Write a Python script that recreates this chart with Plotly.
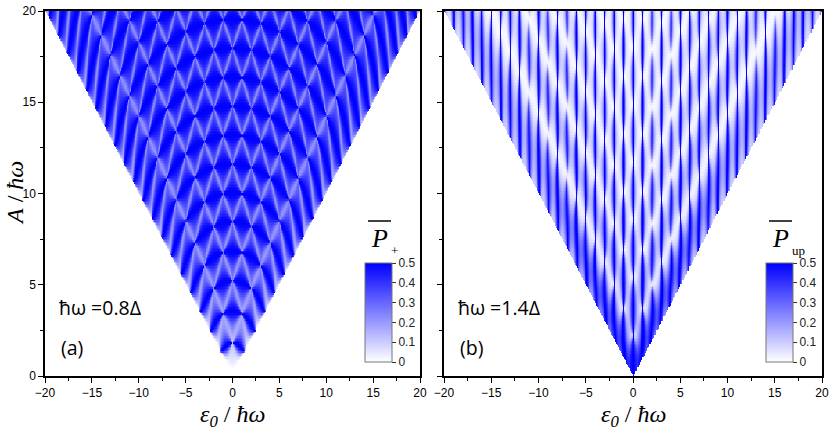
import numpy as np
import plotly.graph_objects as go
from plotly.subplots import make_subplots

# --- parametry paneli ---
hw_over_delta = [0.8, 1.4]          # hbar*omega / Delta dla (a) i (b)
panel_tags = ["(a)", "(b)"]
energy_labels = ["ħω =0.8Δ", "ħω =1.4Δ"]
cbar_subs = ["+", "up"]
eps_range = [-20, 20]
amp_range = [0, 20]
axis_ticks = [-20, -15, -10, -5, 0, 5, 10, 15, 20]
amp_ticks = [0, 5, 10, 15, 20]
cbar_ticks = [0, 0.1, 0.2, 0.3, 0.4, 0.5]
n_eps, n_amp = 481, 241
n_steps = 600
n_quad = 300

W, H = 831, 432


def px(x):
    return x / W


def py(y):
    return (H - y) / H


def grid():
    eps = np.linspace(eps_range[0], eps_range[1], n_eps)
    amp = np.linspace(amp_range[0], amp_range[1], n_amp)
    E, A = np.meshgrid(eps, amp)
    return eps, amp, E, A, np.abs(E) < A


def arg_gamma(d):
    # Im ln Gamma(1 - i d)
    z = 1 - 1j * d
    K = 10
    shift = np.zeros_like(d)
    for k in range(K):
        shift += np.angle(z + k)
    w = z + K
    lg = (w - 0.5) * np.log(w) - w + 0.5 * np.log(2 * np.pi) + 1 / (12 * w) - 1 / (360 * w ** 3) + 1 / (1260 * w ** 5)
    return lg.imag - shift


def phase(e0, a0, gap, t0, t1, s):
    L = (t1 - t0)[:, None]
    tt = t0[:, None] + s[None, :] * L
    val = np.sqrt(gap ** 2 + (e0[:, None] + a0[:, None] * np.sin(tt)) ** 2).mean(axis=1)
    return 0.5 * (t1 - t0) * val


def aim_upper(hw):
    # model adiabatyczno-impulsowy (przejscie powolne), usredniony po obu odcinkach okresu
    gap = 1.0 / hw
    eps, amp, E, A, inside = grid()
    out = np.full(E.shape, np.nan)
    e0all = E[inside]
    a0all = A[inside]
    res = np.empty(e0all.size)
    s = (np.arange(n_quad) + 0.5) / n_quad
    chunk = 4000
    for i in range(0, e0all.size, chunk):
        e0 = e0all[i:i + chunk]
        a0 = a0all[i:i + chunk]
        asn = np.arcsin(e0 / a0)
        tA = -asn
        tB = np.pi + asn
        zp = phase(e0, a0, gap, tA, tB, s)                 # odcinek eps > 0
        zn = phase(e0, a0, gap, tB, tA + 2 * np.pi, s)     # odcinek eps < 0
        v = np.sqrt(np.maximum(a0 ** 2 - e0 ** 2, 1e-12))
        d = gap ** 2 / (4 * v)
        P = np.exp(-2 * np.pi * d)
        phs = np.pi / 4 + d * (np.log(d) - 1) + arg_gamma(d) - np.pi / 2
        x2 = np.sqrt(1 - P) * np.sin(zp + zn + 2 * phs) ** 2
        ya = 4 * P * np.cos(zp + phs) ** 2
        yb = 4 * P * np.cos(zn + phs) ** 2
        res[i:i + chunk] = 0.25 * (ya / (ya + x2 + 1e-12) + yb / (yb + x2 + 1e-12))
    out[inside] = res
    return eps, amp, np.round(np.clip(out, 0, 0.5), 3)


def floquet_up(hw):
    # dokladna dynamika Floquet, srednie obsadzenie stanu diabatycznego
    gap = 1.0 / hw
    eps, amp, E, A, inside = grid()
    out = np.full(E.shape, np.nan)
    e0 = E[inside]
    a0 = A[inside]
    sg = np.where(e0 >= 0, 1.0, -1.0)
    ua = np.ones(e0.size, dtype=complex)
    ub = np.zeros(e0.size, dtype=complex)
    gx = np.zeros(e0.size)
    gy = np.zeros(e0.size)
    gz = np.zeros(e0.size)
    dt = 2 * np.pi / n_steps
    for k in range(n_steps):
        tm = (k + 0.5) * dt
        ep = e0 + a0 * np.sin(tm)
        en = 0.5 * np.sqrt(gap ** 2 + ep ** 2)
        c = np.cos(en * dt)
        sn = np.sin(en * dt)
        p = c + 1j * sn * ep / (2 * en)
        q = 1j * sn * gap / (2 * en)
        ua, ub = p * ua - q * np.conj(ub), p * ub + q * np.conj(ua)
        z12 = 2 * np.conj(ua) * ub
        gz += sg * (np.abs(ua) ** 2 - np.abs(ub) ** 2)
        gx += sg * np.real(z12)
        gy -= sg * np.imag(z12)
    gx /= n_steps
    gy /= n_steps
    gz /= n_steps
    mz = -np.imag(ua)
    mx = -np.imag(ub)
    my = -np.real(ub)
    mn = np.sqrt(mx ** 2 + my ** 2 + mz ** 2) + 1e-15
    mx, my, mz = mx / mn, my / mn, mz / mn
    m_r = mz * sg
    m_g = mx * gx + my * gy + mz * gz
    out[inside] = 0.5 * (1 - m_r * m_g)
    return eps, amp, np.round(np.clip(out, 0, 0.5), 3)


fig = make_subplots(rows=1, cols=2)

x_domains = [[px(45), px(420)], [px(444), px(822)]]
y_domain = [py(376), py(11)]
cbar_left = [365, 766]
blue_scale = [[0, "#ffffff"], [1, "#0000ff"]]
models = [aim_upper, floquet_up]

for k, hw in enumerate(hw_over_delta):
    eps, amp, z = models[k](hw)
    fig.add_trace(go.Heatmap(
        x=eps, y=amp, z=z, zmin=0, zmax=0.5, colorscale=blue_scale,
        hoverongaps=False,
        colorbar=dict(
            x=px(cbar_left[k]), xanchor="left", y=py(362), yanchor="bottom",
            len=99 / H, lenmode="fraction", thickness=27, thicknessmode="pixels",
            xpad=0, ypad=0, outlinecolor="#777777", outlinewidth=1,
            tickvals=cbar_ticks, ticks="outside", ticklen=4, tickcolor="#333333",
            tickfont=dict(family="Liberation Sans", size=12, color="#222222"),
        ),
    ), row=1, col=k + 1)

    xa = "xaxis" if k == 0 else "xaxis2"
    ya = "yaxis" if k == 0 else "yaxis2"
    fig.layout[xa].update(
        domain=x_domains[k], range=eps_range, tickvals=axis_ticks, automargin=False,
        ticks="outside", ticklen=5, tickwidth=1.2, tickcolor="black",
        minor=dict(dtick=2.5, ticks="outside", ticklen=3, tickcolor="black"),
        showline=True, linecolor="black", linewidth=1.5, mirror=True,
        showgrid=False, zeroline=False,
        tickfont=dict(family="Liberation Sans", size=12, color="black"),
    )
    fig.layout[ya].update(
        domain=y_domain, range=amp_range, tickvals=amp_ticks, automargin=False,
        ticks="outside", ticklen=5, tickwidth=1.2, tickcolor="black",
        minor=dict(dtick=2.5, ticks="outside", ticklen=3, tickcolor="black"),
        showline=True, linecolor="black", linewidth=1.5, mirror=True,
        showgrid=False, zeroline=False, showticklabels=(k == 0),
        tickfont=dict(family="Liberation Sans", size=12, color="black"),
    )

    x0 = [45, 444][k]
    fig.add_annotation(x=px(x0 + 12), y=py(307), xref="paper", yref="paper",
                       text=energy_labels[k], showarrow=False, xanchor="left", yanchor="middle",
                       font=dict(family="Open Sans", size=19.5, color="black"))
    fig.add_annotation(x=px(x0 + 14), y=py(347), xref="paper", yref="paper",
                       text=panel_tags[k], showarrow=False, xanchor="left", yanchor="middle",
                       font=dict(family="Open Sans", size=19.5, color="black"))
    # tytul osi x
    xc = (x_domains[k][0] + x_domains[k][1]) / 2
    fig.add_annotation(x=xc, y=py(416), xref="paper", yref="paper",
                       text="<i>ε<sub>0</sub></i> / <i>ħω</i>", showarrow=False,
                       xanchor="center", yanchor="middle",
                       font=dict(family="Liberation Serif", size=24, color="black"))
    # etykieta paska kolorow
    cx = cbar_left[k] + 14
    fig.add_annotation(x=px(cx), y=py(238), xref="paper", yref="paper",
                       text="<i>P</i>", showarrow=False, xanchor="center", yanchor="middle",
                       font=dict(family="Liberation Serif", size=26, color="black"))
    fig.add_annotation(x=px(cx + 10), y=py(250), xref="paper", yref="paper",
                       text=cbar_subs[k], showarrow=False, xanchor="left", yanchor="middle",
                       font=dict(family="Liberation Serif", size=13, color="black"))
    fig.add_shape(type="line", xref="paper", yref="paper",
                  x0=px(cx - 11), x1=px(cx + 12), y0=py(221), y1=py(221),
                  line=dict(color="black", width=1.5))

fig.add_annotation(x=px(15), y=py(193), xref="paper", yref="paper",
                   text="<i>A</i> / <i>ħω</i>", showarrow=False, textangle=-90,
                   xanchor="center", yanchor="middle",
                   font=dict(family="Liberation Serif", size=24, color="black"))

fig.update_layout(
    template="none",
    width=W, height=H,
    margin=dict(l=0, r=0, t=0, b=0),
    paper_bgcolor="white", plot_bgcolor="white",
    showlegend=False,
)

# domyslny margines body (8 px) przesuwa wykres - zerujemy go
fig.write_html("out.html", config={"displayModeBar": False},
               post_script="document.body.style.margin='0';")
